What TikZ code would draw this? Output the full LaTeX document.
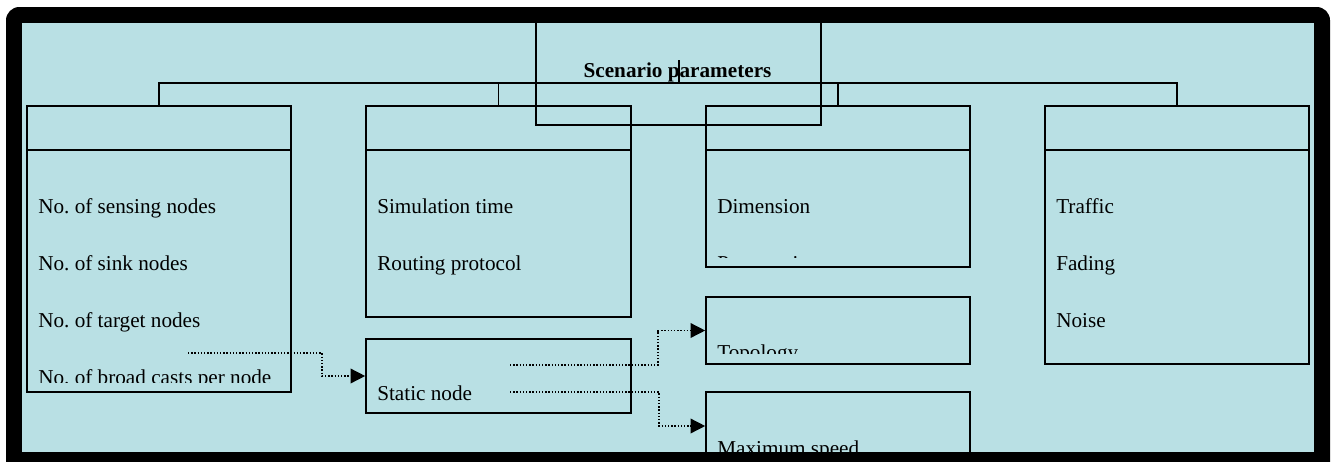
\documentclass[tikz,border=0pt]{standalone}
\usepackage{fontspec}
\setmainfont{Liberation Serif}
\usetikzlibrary{arrows.meta,fit,calc}
\definecolor{panel}{RGB}{185,224,228}
\begin{document}
\begin{tikzpicture}[x=0.75pt,y=-0.75pt,
  every node/.style={font=\fontsize{15.9}{19}\selectfont\frenchspacing, text=black},
  box/.style={draw, line width=1.2pt, inner sep=0pt},
  lbl/.style={anchor=base west, inner sep=0pt},
  bus/.style={line width=1.2pt},
  conn/.style={line width=1.1pt, dash pattern=on 1.1pt off 1.3pt, -{Triangle[length=11pt,width=11pt]}},
]
\useasboundingbox (0,0) rectangle (1336,461);
\clip (0,0) rectangle (1336,461);
\fill[white] (0,0) rectangle (1336,461);
\fill[black, rounded corners=10] (6,7) rectangle (1330,480);
\fill[panel] (22,23) rectangle (1314,452);

% title box
\node[box, fit={(536,15) (821,125)}] (scen) {};
\node[anchor=base, inner sep=0pt, font=\fontsize{15.9}{19}\selectfont\bfseries] (title) at (677.5,77) {Scenario parameters};
\coordinate (tick) at (679,60);
\coordinate (busy) at (0,83);

% group boxes
\node[box, fit={(27,106) (291,392)}] (b1) {};
\node[box, fit={(366,106) (631,317)}] (b2) {};
\node[box, fit={(706,106) (970,267)}] (b3) {};
\node[box, fit={(1045,106) (1309,364)}] (b4) {};
\node[box, fit={(366,339) (631,413)}] (static) {};
\node[box, fit={(706,297) (970,364)}] (topo) {};
\node[box, fit={(706,392) (970,460)}] (maxs) {};

% header dividers
\foreach \b in {b1,b2,b3,b4}
  \draw[bus] ($(\b.north west)+(0,45)$) -- ($(\b.north east)+(0,45)$);

% tree connectors
\draw[bus] (b1.north) |- (b4.north |- busy) -- (b4.north);
\draw[bus] (b2.north) -- (b2.north |- busy);
\draw[bus] (b3.north) -- (b3.north |- busy);
\draw[bus] (tick) -- (tick |- busy);

% labels
\node[lbl] (l11) at (38,213) {No. of sensing nodes};
\node[lbl] (l12) at (38,270) {No. of sink nodes};
\node[lbl] (l13) at (38,327) {No. of target nodes};
\begin{scope}
  \clip (30,300) rectangle (288,382.5);
  \node[lbl] (l14) at (38,384) {No. of broad casts per node};
\end{scope}
\node[lbl] (l21) at (377,213) {Simulation time};
\node[lbl] (l22) at (377,270) {Routing protocol};
\node[lbl] (l31) at (717,213) {Dimension};
\begin{scope}
  \clip (710,230) rectangle (966,257.5);
  \node[lbl] (l32) at (717,270) {Propagation};
\end{scope}
\node[lbl] (l41) at (1056,213) {Traffic};
\node[lbl] (l42) at (1056,270) {Fading};
\node[lbl] (l43) at (1056,327) {Noise};
\node[lbl] (ls) at (377,400) {Static node};
\begin{scope}
  \clip (710,300) rectangle (966,353.5);
  \node[lbl] (lt) at (717,359) {Topology};
\end{scope}
\begin{scope}
  \clip (710,395) rectangle (966,452);
  \node[lbl] (lm) at (717,455) {Maximum speed};
\end{scope}

% dotted connectors
\coordinate (s1) at (188,353);
\coordinate (s2) at (510,365);
\coordinate (s3) at (510,392);
\draw[conn] (s1) -- ++(134,0) |- (static.west);
\draw[conn] (s2) -- ++(148,0) |- (topo.west);
\draw[conn] (s3) -- ++(149,0) |- (maxs.west);
\end{tikzpicture}
\end{document}
